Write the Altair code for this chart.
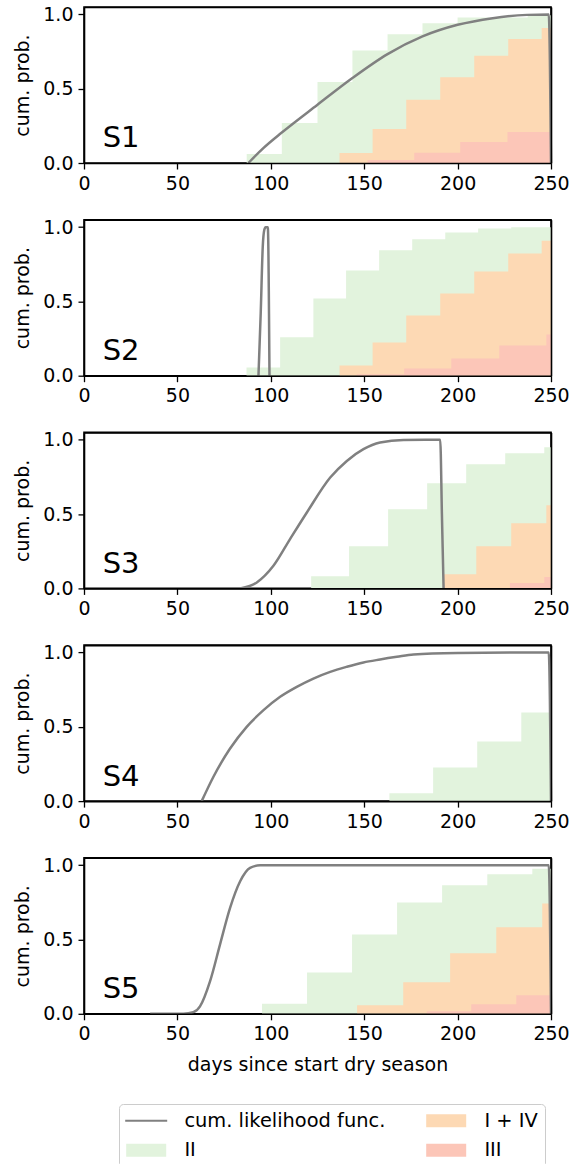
import altair as alt
import pandas as pd

FONT = "DejaVu Sans"
SERIES = ["cum. likelihood func.", "II", "I + IV", "III"]
COLORS = ["#808080", "#e2f3dd", "#fdd9b4", "#fcc6b8"]
COLOR_OF = dict(zip(SERIES, COLORS))
SHAPES = ["M-4.2,-0.2H4.2V0.2H-4.2Z", "M-4,-1.3H4V1.3H-4Z",
          "M-4,-1.3H4V1.3H-4Z", "M-4,-1.3H4V1.3H-4Z"]
PANELS = ["S1", "S2", "S3", "S4", "S5"]
X_TICKS = [0, 50, 100, 150, 200, 250]
Y_TICKS = [0.0, 0.5, 1.0]
X_MAX = 250
LABEL_X = 10
LABEL_Y = 0.105

# ---- S1 ----
s1_ii_x = [87.1, 105.9, 125.0, 143.7, 162.5, 181.2, 200.0, 237.5]
s1_ii_y = [0.06, 0.27, 0.545, 0.758, 0.867, 0.94, 0.98, 0.995]
s1_i4_x = [136.8, 154.5, 172.5, 190.7, 208.9, 227.1, 245.0]
s1_i4_y = [0.067, 0.229, 0.426, 0.578, 0.722, 0.834, 0.908]
s1_iii_x = [151.8, 176.8, 201.4, 226.7]
s1_iii_y = [0.02, 0.069, 0.141, 0.208]
s1_line_x = [88.0, 96.0, 105.9, 125.0, 143.7, 162.5, 181.2, 200.0, 218.8, 237.2, 248.8, 250.0]
s1_line_y = [0.0, 0.1, 0.205, 0.392, 0.572, 0.733, 0.852, 0.93, 0.975, 0.997, 1.0, 0.0]

# ---- S2 ----
s2_ii_x = [87.0, 105.0, 122.8, 140.3, 158.0, 175.7, 193.4, 211.0, 228.7]
s2_ii_y = [0.056, 0.258, 0.52, 0.708, 0.845, 0.919, 0.964, 0.99, 0.999]
s2_i4_x = [136.8, 154.5, 172.5, 190.7, 208.9, 227.1, 245.0]
s2_i4_y = [0.069, 0.224, 0.405, 0.553, 0.701, 0.822, 0.908]
s2_iii_x = [146.0, 171.4, 196.6, 222.3, 247.5]
s2_iii_y = [0.01, 0.049, 0.116, 0.204, 0.278]
s2_line_x = [93.4, 94.6, 95.7, 96.5, 97.2, 98.4, 99.3]
s2_line_y = [0.0, 0.42, 0.87, 0.98, 1.0, 1.0, 0.0]

# ---- S3 ----
s3_ii_x = [121.6, 141.9, 162.8, 183.7, 204.6, 225.5, 246.4]
s3_ii_y = [0.081, 0.284, 0.533, 0.708, 0.836, 0.91, 0.95]
s3_i4_x = [192.1, 210.0, 228.7, 247.5]
s3_i4_y = [0.096, 0.284, 0.439, 0.56]
s3_iii_x = [228.0, 246.4]
s3_iii_y = [0.036, 0.076]
s3_line_x = [83.6, 92.5, 101.4, 110.3, 119.3, 131.8, 140.7, 149.6, 158.5, 171.0, 190.7, 191.6, 192.5]
s3_line_y = [0.0, 0.04, 0.152, 0.332, 0.511, 0.746, 0.858, 0.937, 0.982, 0.999, 1.0, 0.5, 0.0]

# ---- S4 ----
s4_ii_x = [163.5, 186.9, 210.5, 234.1]
s4_ii_y = [0.052, 0.226, 0.401, 0.596]
s4_i4_x = []
s4_i4_y = []
s4_iii_x = []
s4_iii_y = []
s4_line_x = [63.0, 69.3, 78.2, 87.1, 96.1, 105.0, 113.9, 122.8, 131.8, 140.7, 149.6,
             158.5, 167.5, 176.4, 200.0, 230.0, 248.8, 250.0]
s4_line_y = [0.0, 0.164, 0.354, 0.5, 0.612, 0.702, 0.769, 0.825, 0.87, 0.904, 0.933,
             0.953, 0.971, 0.987, 0.997, 1.0, 1.0, 0.0]

# ---- S5 ----
s5_ii_x = [95.3, 119.4, 143.5, 167.6, 191.7, 215.9, 240.0]
s5_ii_y = [0.067, 0.278, 0.533, 0.749, 0.865, 0.939, 0.977]
s5_i4_x = [146.2, 170.9, 196.0, 220.7, 245.3]
s5_i4_y = [0.058, 0.213, 0.408, 0.583, 0.742]
s5_iii_x = [183.5, 207.3, 231.4]
s5_iii_y = [0.018, 0.065, 0.125]
s5_line_x = [35.4, 53.2, 58.5, 62.1, 67.5, 72.8, 78.2, 83.6, 88.9, 94.3, 248.8, 250.0]
s5_line_y = [0.0, 0.0, 0.01, 0.05, 0.22, 0.466, 0.713, 0.892, 0.982, 1.0, 1.0, 0.0]

PANEL_DATA = {
    "S1": (s1_ii_x, s1_ii_y, s1_i4_x, s1_i4_y, s1_iii_x, s1_iii_y, s1_line_x, s1_line_y),
    "S2": (s2_ii_x, s2_ii_y, s2_i4_x, s2_i4_y, s2_iii_x, s2_iii_y, s2_line_x, s2_line_y),
    "S3": (s3_ii_x, s3_ii_y, s3_i4_x, s3_i4_y, s3_iii_x, s3_iii_y, s3_line_x, s3_line_y),
    "S4": (s4_ii_x, s4_ii_y, s4_i4_x, s4_i4_y, s4_iii_x, s4_iii_y, s4_line_x, s4_line_y),
    "S5": (s5_ii_x, s5_ii_y, s5_i4_x, s5_i4_y, s5_iii_x, s5_iii_y, s5_line_x, s5_line_y),
}


def build_rows(name):
    ii_x, ii_y, i4_x, i4_y, iii_x, iii_y, lx, ly = PANEL_DATA[name]
    rows = []
    for s, xs, ys in [("II", ii_x, ii_y), ("I + IV", i4_x, i4_y), ("III", iii_x, iii_y)]:
        if xs:
            for xv, yv in zip(list(xs) + [X_MAX], list(ys) + [ys[-1]]):
                rows.append({"series": s, "x": xv, "y": yv})
    for xv, yv in zip(lx, ly):
        rows.append({"series": SERIES[0], "x": xv, "y": yv})
    return pd.DataFrame(rows)


cscale = alt.Scale(domain=SERIES, range=COLORS)
shscale = alt.Scale(domain=SERIES, range=SHAPES)
LEGEND = alt.Legend(
    orient="none", legendX=35, legendY=1097, columns=2, title=None,
    labelFont=FONT, labelFontSize=19.4, labelColor="black", labelLimit=400,
    symbolSize=100, symbolOffset=11, labelOffset=28.5,
    symbolStrokeWidth=0, symbolOpacity=1, symbolFillColor="black",
    rowPadding=9, columnPadding=40, padding=6.5,
    strokeColor="#cccccc", cornerRadius=4, fillColor="white")

XSCALE = alt.Scale(domain=[0, X_MAX], nice=False, zero=False)
YSCALE = alt.Scale(domain=[0, 1.05], nice=False)


def panel(name, last):
    d = build_rows(name)
    xenc = alt.X("x:Q", scale=XSCALE,
                 axis=alt.Axis(values=X_TICKS, format="d", zindex=1, labelFlush=False,
                               titlePadding=12, orient="bottom",
                               title="days since start dry season" if last else None))
    yenc = alt.Y("y:Q", scale=YSCALE,
                 axis=alt.Axis(values=Y_TICKS, format=".1f", title="cum. prob.",
                               zindex=1, orient="left", labelFlush=False, titlePadding=10))
    layers = []
    if last:
        layers.append(
            alt.Chart(d).mark_point(opacity=0, filled=True).encode(
                x=xenc, y=yenc,
                color=alt.Color("series:N", scale=cscale, legend=LEGEND),
                shape=alt.Shape("series:N", scale=shscale, legend=LEGEND),
            )
        )
    for s in ["II", "I + IV", "III"]:
        layers.append(
            alt.Chart(d).transform_filter(alt.datum.series == s)
            .mark_area(interpolate="step-after", opacity=1, color=COLOR_OF[s])
            .encode(x=xenc, y=yenc)
        )
    layers.append(
        alt.Chart(d).transform_filter(alt.datum.series == SERIES[0])
        .mark_line(interpolate="monotone", strokeWidth=2.5, color=COLOR_OF[SERIES[0]])
        .encode(x=xenc, y=yenc)
    )
    inner = alt.layer(*layers)
    lab = pd.DataFrame({"x": [LABEL_X], "y": [LABEL_Y], "t": [name]})
    frame = (
        alt.Chart(lab).mark_text(align="left", baseline="alphabetic", font=FONT,
                                 fontSize=29, color="black")
        .encode(
            x=alt.X("x:Q", scale=XSCALE,
                    axis=alt.Axis(orient="top", labels=False, ticks=False, title=None,
                                  domain=True, zindex=1)),
            y=alt.Y("y:Q", scale=YSCALE,
                    axis=alt.Axis(orient="right", labels=False, ticks=False, title=None,
                                  domain=True, zindex=1)),
            text="t:N")
    )
    return alt.layer(inner, frame).resolve_axis(x="independent", y="independent").properties(
        width=467, height=156)


chart = alt.vconcat(*[panel(n, i == len(PANELS) - 1) for i, n in enumerate(PANELS)],
                    spacing=22.7).properties(
    padding={"left": 12, "top": 4, "right": 2, "bottom": 0}
).configure_view(stroke="black", strokeWidth=1.6).configure_axis(
    labelFont=FONT, labelFontSize=19, labelColor="black",
    titleFont=FONT, titleFontSize=19, titleColor="black", titleFontWeight="normal",
    tickColor="black", tickSize=6, tickWidth=1.3, labelPadding=5,
    domainColor="black", domainWidth=1.6, grid=False, titlePadding=8
)

chart.save("out.html", embed_options={"renderer": "svg", "actions": False})
